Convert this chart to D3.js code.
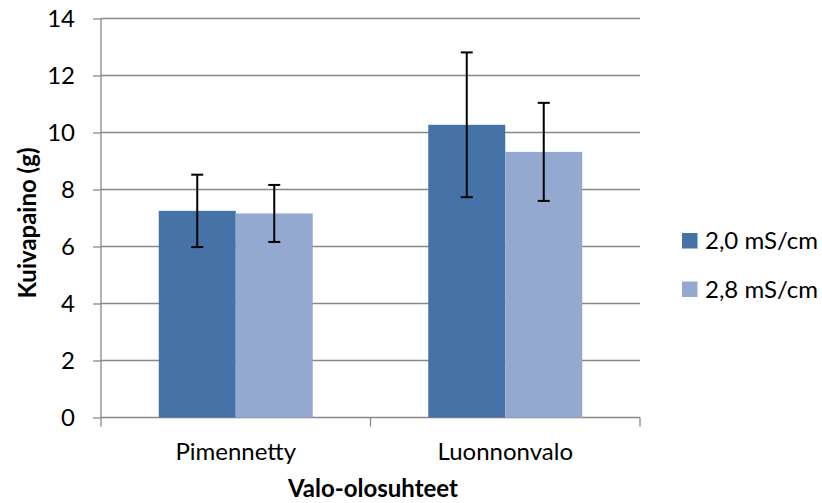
<!DOCTYPE html>
<html><head><meta charset="utf-8">
<script src="https://cdn.jsdelivr.net/npm/d3@7"></script>
<style>body{margin:0;background:#fff}svg text{font-family:Lato,"Open Sans",sans-serif}</style>
</head><body>
<svg id="c" width="822" height="503"></svg>
<script>
const categories = ["Pimennetty", "Luonnonvalo"];
const seriesNames = ["2,0 mS/cm", "2,8 mS/cm"];
const series1 = [7.25, 10.27];
const series2 = [7.16, 9.32];
const error1 = [1.27, 2.54];
const error2 = [1.0, 1.72];
const yTicks = [0, 2, 4, 6, 8, 10, 12, 14];
const colors = ["#4572A7", "#93A9CF"];

const FS = 24;
const svg = d3.select("#c");
const m = {l: 101, r: 640, t: 18.5, b: 417.5};
const x = d3.scaleBand().domain(categories).range([m.l, m.r]).paddingInner(0).paddingOuter(0);
const y = d3.scaleLinear().domain([0, 14]).range([m.b, m.t]);
const inner = d3.scaleBand().domain([0, 1]).range([0, x.bandwidth()]).paddingInner(0).paddingOuter(0.75);

// gridlines
svg.append("g").selectAll("line").data(yTicks.filter(d => d > 0)).join("line")
  .attr("x1", m.l).attr("x2", m.r).attr("y1", d => y(d)).attr("y2", d => y(d))
  .attr("stroke", "#888").attr("stroke-width", 1.3);

// y axis
const ya = svg.append("g").attr("transform", `translate(${m.l},0)`)
  .call(d3.axisLeft(y).tickValues(yTicks).tickSize(8).tickPadding(18).tickFormat(d3.format("d")));
ya.select(".domain").attr("stroke", "#888").attr("stroke-width", 1.3).attr("d", `M0,${m.t}V${m.b}`);
ya.selectAll(".tick line").attr("stroke", "#888").attr("stroke-width", 1.3);
ya.selectAll(".tick text").attr("font-size", FS).attr("fill", "#000").attr("font-family", "Lato");

// x axis
const xa = svg.append("g").attr("transform", `translate(0,${m.b})`)
  .call(d3.axisBottom(x).tickSize(0).tickPadding(25));
xa.select(".domain").attr("stroke", "#888").attr("stroke-width", 1.3).attr("d", `M${m.l},0H${m.r}`);
xa.selectAll(".tick text").attr("font-size", FS).attr("fill", "#000").attr("font-family", "Lato");
const sep = [m.l, x(categories[1]), m.r];
svg.append("g").selectAll("line").data(sep).join("line")
  .attr("x1", d => d).attr("x2", d => d).attr("y1", m.b).attr("y2", m.b + 9)
  .attr("stroke", "#888").attr("stroke-width", 1.3);

// bars
const data = categories.map((c, i) => ({c, vals: [
  {s: 0, v: series1[i], e: error1[i]}, {s: 1, v: series2[i], e: error2[i]}]}));
const g = svg.append("g").selectAll("g").data(data).join("g")
  .attr("transform", d => `translate(${x(d.c)},0)`);
g.selectAll("rect").data(d => d.vals).join("rect")
  .attr("x", d => inner(d.s)).attr("width", inner.bandwidth())
  .attr("y", d => y(d.v)).attr("height", d => y(0) - y(d.v))
  .attr("fill", d => colors[d.s]);
// error bars
const eb = g.selectAll("g.eb").data(d => d.vals).join("g").attr("class", "eb");
eb.append("line").attr("x1", d => inner(d.s) + inner.bandwidth()/2).attr("x2", d => inner(d.s) + inner.bandwidth()/2)
  .attr("y1", d => y(d.v + d.e)).attr("y2", d => y(d.v - d.e)).attr("stroke", "#000").attr("stroke-width", 2);
[1, -1].forEach(sg => {
  eb.append("line").attr("x1", d => inner(d.s) + inner.bandwidth()/2 - 6).attr("x2", d => inner(d.s) + inner.bandwidth()/2 + 6)
    .attr("y1", d => y(d.v + sg*d.e)).attr("y2", d => y(d.v + sg*d.e)).attr("stroke", "#000").attr("stroke-width", 2);
});

// axis titles
svg.append("text").attr("x", 373).attr("y", 497).attr("text-anchor", "middle")
  .attr("font-size", FS).attr("font-weight", "bold").text("Valo-olosuhteet");
svg.append("text").attr("transform", "translate(36,223) rotate(-90)").attr("text-anchor", "middle")
  .attr("font-size", FS).attr("font-weight", "bold").text("Kuivapaino (g)");

// legend
const lg = svg.append("g").selectAll("g").data(seriesNames).join("g")
  .attr("transform", (d, i) => `translate(682,${233 + i * 48.5})`);
lg.append("rect").attr("width", 15.5).attr("height", 15.5).attr("fill", (d, i) => colors[i]);
lg.append("text").attr("x", 23).attr("y", 8).attr("dy", "0.35em").attr("font-size", FS).text(d => d);
</script>
</body></html>
